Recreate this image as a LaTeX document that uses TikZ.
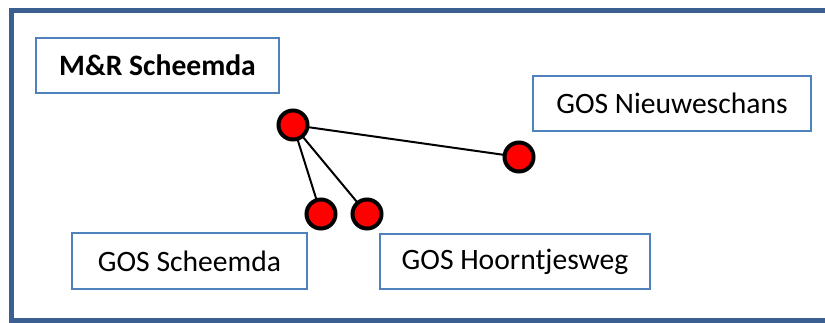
\documentclass[tikz,border=0pt]{standalone}
\usepackage{fontspec}
\setmainfont{Carlito}
\usetikzlibrary{backgrounds}
\definecolor{framecol}{RGB}{60,95,145}
\definecolor{boxcol}{RGB}{79,129,189}
\begin{document}
\begin{tikzpicture}[x=1pt,y=-1pt,
  labelbox/.style={draw=boxcol, line width=1.6pt, fill=white, rectangle, inner sep=0pt,
    font=\fontsize{29.6}{36}\selectfont},
  dot/.style={circle, draw=black, fill=red, line width=4pt, minimum size=29pt, inner sep=0pt},
  link/.style={draw=black, line width=2pt}]
\useasboundingbox (0,0) rectangle (825,322);
\clip (0,0) rectangle (825,322);
% boxes
\node[labelbox, minimum width=243pt, minimum height=55pt, font=\fontsize{29.6}{36}\selectfont\bfseries] (mr) at (157.5,65.5) {M\&R Scheemda};
\node[labelbox, minimum width=278pt, minimum height=55pt] (nw) at (672,103.5) {GOS Nieuweschans};
\node[labelbox, minimum width=235pt, minimum height=56pt] (sc) at (189.5,261) {GOS Scheemda};
\node[labelbox, minimum width=270pt, minimum height=55pt] (ho) at (515,261.5) {GOS Hoorntjesweg};
% dots
\node[dot] (hub) at (293,125) {};
\node[dot] (dnw) at (519,157) {};
\node[dot] (dsc) at (321,214) {};
\node[dot] (dho) at (367,214) {};
\begin{scope}[on background layer]
\fill[white] (0,0) rectangle (825,322);
\draw[framecol, line width=5pt] (11.5,10) rectangle (840,320.5);
\draw[link] (hub.center) -- (dnw.center);
\draw[link] (hub.center) -- (dsc.center);
\draw[link] (hub.center) -- (dho.center);
\end{scope}
\end{tikzpicture}
\end{document}
